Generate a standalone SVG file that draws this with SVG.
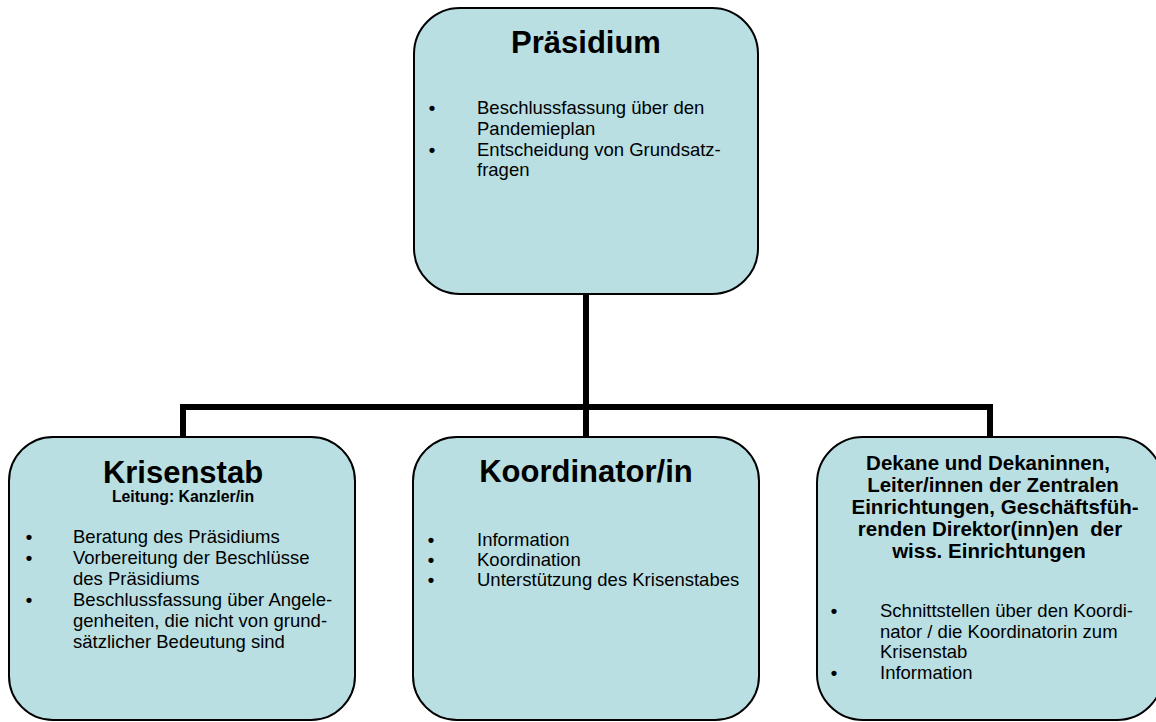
<svg xmlns="http://www.w3.org/2000/svg" width="1156" height="722" viewBox="0 0 1156 722">
<style>
.box{fill:#b9dfe3;stroke:#000;stroke-width:2}
.t{font-family:"Liberation Sans",Arial,sans-serif;font-weight:bold;font-size:31px;fill:#000;text-anchor:middle}
.sub{font-family:"Liberation Sans",Arial,sans-serif;font-weight:bold;font-size:15.8px;fill:#000;text-anchor:middle}
.t2{font-family:"Liberation Sans",Arial,sans-serif;font-weight:bold;font-size:20.5px;fill:#000;text-anchor:middle;white-space:pre}
.b{font-family:"Liberation Sans",Arial,sans-serif;font-size:18.5px;fill:#000}
.d{font-family:"Liberation Sans",Arial,sans-serif;font-size:18.5px;font-weight:bold;fill:#000;text-anchor:middle}
.con{fill:none;stroke:#000;stroke-width:6;stroke-linejoin:miter;stroke-linecap:butt}
</style>
<rect width="1156" height="722" fill="#fff"/>
<g id="connectors">
<path class="con" d="M586,294 V437"/>
<path class="con" d="M183,437 V407 H990 V437"/>
</g>
<g id="praesidium">
<rect class="box" x="414" y="8" width="344" height="286" rx="46" ry="46"/>
<text class="t" x="586" y="53">Präsidium</text>
<text class="d" x="432" y="114">•</text>
<text class="b" x="477" y="114">Beschlussfassung über den</text>
<text class="b" x="477" y="135">Pandemieplan</text>
<text class="d" x="432" y="156">•</text>
<text class="b" x="477" y="156">Entscheidung von Grundsatz-</text>
<text class="b" x="477" y="176">fragen</text>
</g>
<g id="krisenstab">
<rect class="box" x="9" y="437" width="346" height="283" rx="44" ry="44"/>
<text class="t" x="183" y="483">Krisenstab</text>
<text class="sub" x="183" y="502">Leitung: Kanzler/in</text>
<text class="d" x="29" y="543">•</text>
<text class="b" x="73" y="543">Beratung des Präsidiums</text>
<text class="d" x="29" y="564">•</text>
<text class="b" x="73" y="564">Vorbereitung der Beschlüsse</text>
<text class="b" x="73" y="585">des Präsidiums</text>
<text class="d" x="29" y="606">•</text>
<text class="b" x="73" y="606">Beschlussfassung über Angele-</text>
<text class="b" x="73" y="627">genheiten, die nicht von grund-</text>
<text class="b" x="73" y="648">sätzlicher Bedeutung sind</text>
</g>
<g id="koordinator">
<rect class="box" x="413" y="437" width="346" height="283" rx="44" ry="44"/>
<text class="t" x="586" y="482">Koordinator/in</text>
<text class="d" x="431" y="546">•</text>
<text class="b" x="477" y="546">Information</text>
<text class="d" x="431" y="566">•</text>
<text class="b" x="477" y="566">Koordination</text>
<text class="d" x="431" y="586">•</text>
<text class="b" x="477" y="586">Unterstützung des Krisenstabes</text>
</g>
<g id="dekane">
<rect class="box" x="817" y="437" width="346" height="283" rx="46" ry="46"/>
<text class="t2" x="988" y="470">Dekane und Dekaninnen,</text>
<text class="t2" x="993" y="492">Leiter/innen der Zentralen</text>
<text class="t2" x="995" y="514">Einrichtungen, Geschäftsfüh-</text>
<text class="t2" x="990" y="536">renden Direktor(inn)en  der</text>
<text class="t2" x="989" y="558">wiss. Einrichtungen</text>
<text class="d" x="834" y="617">•</text>
<text class="b" x="880" y="617">Schnittstellen über den Koordi-</text>
<text class="b" x="880" y="638">nator / die Koordinatorin zum</text>
<text class="b" x="880" y="658">Krisenstab</text>
<text class="d" x="834" y="679">•</text>
<text class="b" x="880" y="679">Information</text>
</g>
</svg>
